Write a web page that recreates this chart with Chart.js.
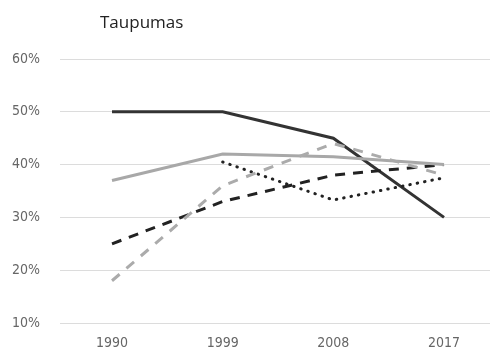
<!DOCTYPE html>
<html>
<head>
<meta charset="utf-8">
<script src="https://cdn.jsdelivr.net/npm/chart.js@4/dist/chart.umd.min.js"></script>
<style>
  html, body { margin: 0; padding: 0; background: #fff; }
  #wrap { width: 501px; height: 355px; position: relative; }
</style>
</head>
<body>
<div id="wrap"><canvas id="c" width="501" height="355"></canvas></div>
<script>
const chartTitle = "Taupumas";
const years = [1990, 1999, 2008, 2017];
const yTicks = [10, 20, 30, 40, 50, 60];
const seriesDarkSolid = [50, 50, 45, 30];
const seriesGraySolid = [37, 42, 41.5, 40];
const seriesDarkDashed = [25, 33, 38, 40];
const seriesDotted = [null, 40.5, 33.3, 37.5];
const seriesGrayDashed = [18, 36, 44, 38];

function pts(arr) {
  return years.map((y, i) => ({ x: y, y: arr[i] }));
}

const tickFont = { family: '"DejaVu Sans Condensed", "Liberation Sans Narrow", "Roboto", sans-serif', size: 14 };

const titlePlugin = {
  id: 'leftTitle',
  afterDraw(chart) {
    const ctx = chart.ctx;
    ctx.save();
    ctx.font = '17px "Open Sans", sans-serif';
    ctx.fillStyle = '#222';
    ctx.textAlign = 'left';
    ctx.textBaseline = 'alphabetic';
    ctx.fillText(chartTitle, 100, 28);
    ctx.restore();
  }
};

const common = { fill: false, pointRadius: 0, tension: 0, borderWidth: 3 };

new Chart(document.getElementById('c'), {
  type: 'line',
  data: {
    datasets: [
      Object.assign({ label: 'A', data: pts(seriesGrayDashed), borderColor: '#ababab', borderDash: [10, 9] }, common),
      Object.assign({ label: 'B', data: pts(seriesGraySolid), borderColor: '#a8a8a8' }, common),
      Object.assign({ label: 'C', data: pts(seriesDarkDashed), borderColor: '#222', borderDash: [10, 8] }, common),
      Object.assign({ label: 'D', data: pts(seriesDotted), borderColor: '#222', borderDash: [0.5, 7], borderCapStyle: 'round' }, common),
      Object.assign({ label: 'E', data: pts(seriesDarkSolid), borderColor: '#333' }, common)
    ]
  },
  options: {
    responsive: false,
    animation: false,
    layout: { padding: { top: 59, right: 11, bottom: 0, left: 0 } },
    plugins: { legend: { display: false }, title: { display: false }, tooltip: { enabled: false } },
    scales: {
      x: {
        type: 'linear',
        min: 1985.77,
        max: 2020.74,
        afterBuildTicks(axis) { axis.ticks = years.map(v => ({ value: v })); },
        afterFit(axis) { axis.height = 32; },
        grid: { display: false, drawTicks: false },
        border: { display: false },
        ticks: { color: '#666', font: tickFont, padding: 12, maxRotation: 0, callback: v => String(v) }
      },
      y: {
        min: 10,
        max: 60,
        afterBuildTicks(axis) { axis.ticks = yTicks.map(v => ({ value: v })); },
        afterFit(axis) { axis.width = 60; },
        grid: { color: '#dcdcdc', lineWidth: 1, drawTicks: false },
        border: { display: false },
        ticks: { color: '#666', font: tickFont, padding: 20, callback: v => v + '%' }
      }
    }
  },
  plugins: [titlePlugin]
});
</script>
</body>
</html>
